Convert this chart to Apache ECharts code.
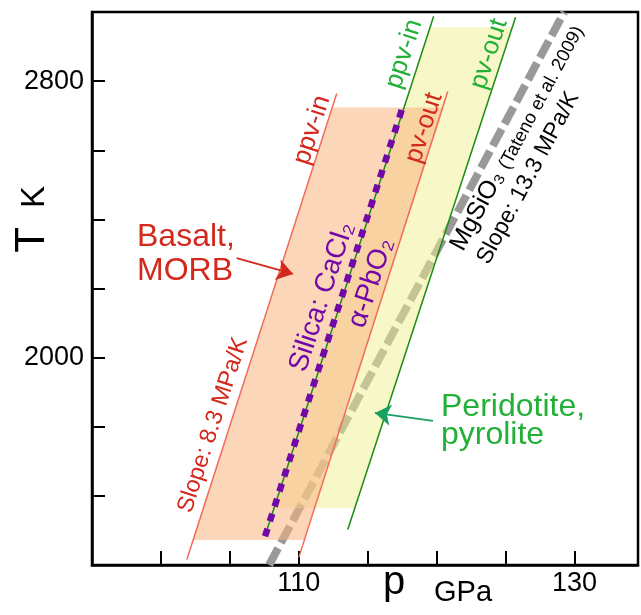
<!DOCTYPE html>
<html>
<head>
<meta charset="utf-8">
<script src="https://cdn.jsdelivr.net/npm/echarts@6/dist/echarts.min.js"></script>
<style>
  html, body { margin: 0; padding: 0; background: #fff; }
  #chart { width: 641px; height: 615px; }
</style>
</head>
<body>
<div id="chart"></div>
<script>
// axes
const pTicks = [100, 105, 110, 115, 120, 125, 130]
const pLabels = [110, 130]
const tTicks = [1600, 1800, 2000, 2200, 2400, 2600, 2800]
const tLabels = [2000, 2800]

// [p GPa, T K]
const basaltPpvIn = [[101.88, 1416], [112.75, 2764]]
const basaltPvOut = [[110.0, 1422], [120.8, 2770]]
const basaltField = [[102.33, 1472], [110.4, 1472], [120.51, 2724], [112.43, 2724]]
const peridPpvIn = [[107.54, 1483], [119.78, 2988]]
const peridPvOut = [[113.55, 1503], [125.72, 2985]]
const peridField = [[108.2, 1564], [114.05, 1564], [125.48, 2956], [119.52, 2956]]
const silicaLine = [[107.55, 1483], [117.5, 2721]]
const mgsio3Line = [[107.85, 1400], [129.25, 3000]]
const basaltArrow = [[105.49, 2288], [109.58, 2242]]
const peridArrow = [[119.73, 1817], [115.52, 1840]]

const FONT = '"Liberation Sans", Arial, sans-serif'
const RED = '#d3291c'
const RED_LINE = '#f26b5b'
const GREEN = '#22b037'
const GREEN_LINE = '#1c8c14'
const PURPLE = '#7308a8'

let chart = echarts.init(document.getElementById('chart'), null, { renderer: 'canvas' })

function lineSeries(data, color, width, z, type) {
  return {
    type: 'line',
    data: data,
    symbol: 'none',
    z: z,
    silent: true,
    lineStyle: { color: color, width: width, type: type || 'solid', cap: 'butt' },
  }
}

function fieldSeries(points, fill, z) {
  return {
    type: 'custom',
    z: z,
    silent: true,
    data: points,
    renderItem: (params, api) => {
      if (params.dataIndex !== 0) return null
      return {
        type: 'polygon',
        shape: { points: points.map((d) => api.coord(d)) },
        style: { fill: fill },
      }
    },
  }
}

function arrowSeries(coords, color) {
  return {
    type: 'lines',
    coordinateSystem: 'cartesian2d',
    z: 6,
    silent: true,
    symbol: ['none', 'arrow'],
    symbolSize: [11, 16],
    lineStyle: { color: color, width: 1.8, opacity: 1 },
    data: [{ coords: coords }],
  }
}

const deg = Math.PI / 180
function label(text, x, y, rot, color, size, align, vAlign) {
  return {
    type: 'text',
    x: x,
    y: y,
    rotation: rot * deg,
    z: 10,
    silent: true,
    style: {
      text: text,
      fill: color,
      font: size + 'px ' + FONT,
      textAlign: align || 'center',
      align: align || 'center',
      textVerticalAlign: vAlign || 'middle',
      verticalAlign: vAlign || 'middle',
    },
  }
}

let graphics = [
  label('ppv-in', 312, 130, 72, RED, 26),
  label('pv-out', 424, 128, 72, RED, 26),
  label('ppv-in', 404, 54, 72, GREEN, 26),
  label('pv-out', 489, 54, 72, GREEN, 26),
  label('Slope: 8.3 MPa/K', 213, 425, 72, RED, 23.5),
  label('Silica: CaCl₂', 322, 297, 72, PURPLE, 28),
  label('α-PbO₂', 371, 283, 72, PURPLE, 28),
  {
    type: 'text', x: 137, y: 220, z: 10, silent: true,
    style: { text: 'Basalt,\nMORB', fill: RED, font: '32px ' + FONT, lineHeight: 34,
      textAlign: 'left', align: 'left', textVerticalAlign: 'top', verticalAlign: 'top' },
  },
  {
    type: 'text', x: 441, y: 393, z: 10, silent: true,
    style: { text: 'Peridotite,\npyrolite', fill: GREEN, font: '32px ' + FONT, lineHeight: 28,
      textAlign: 'left', align: 'left', textVerticalAlign: 'top', verticalAlign: 'top' },
  },
  {
    type: 'text', x: 468, y: 255, rotation: 61.8 * deg, z: 10, silent: true,
    style: {
      text: '{a|MgSiO₃} {b|(Tateno et al. 2009)}',
      fill: '#000',
      font: '25px ' + FONT,
      textAlign: 'left', align: 'left', textVerticalAlign: 'bottom', verticalAlign: 'bottom',
      rich: {
        a: { fontSize: 25, fontFamily: FONT, verticalAlign: 'bottom' },
        b: { fontSize: 18.5, fontFamily: FONT, verticalAlign: 'bottom' },
      },
    },
  },
  label('Slope: 13.3 MPa/K', 493, 268, 61.8, '#000', 23, 'left', 'bottom'),
  label('T', 32, 240, 90, '#000', 42),
  label('K', 35, 197, 90, '#000', 33),
  label('p', 394, 583, 0, '#000', 40),
  label('GPa', 463, 593, 0, '#000', 29),
]

let option = {
  animation: false,
  backgroundColor: '#fff',
  grid: {
    left: 92,
    top: 12,
    right: 3,
    bottom: 50,
    show: true,
    borderColor: '#000',
    borderWidth: 2.5,
    containLabel: false,
    outerBoundsMode: 'none',
  },
  xAxis: {
    type: 'value',
    min: 95,
    max: 134.6,
    splitLine: { show: false },
    axisLine: { show: true, lineStyle: { color: '#000', width: 2.5 } },
    axisTick: { show: true, inside: true, length: 14, customValues: pTicks, lineStyle: { color: '#000', width: 2 } },
    axisLabel: {
      customValues: pLabels, margin: 5, color: '#000', fontSize: 27, fontFamily: FONT,
      formatter: (v) => String(v),
    },
  },
  yAxis: {
    type: 'value',
    min: 1400,
    max: 3000,
    splitLine: { show: false },
    axisLine: { show: true, lineStyle: { color: '#000', width: 2.5 } },
    axisTick: { show: true, inside: true, length: 13, customValues: tTicks, lineStyle: { color: '#000', width: 2 } },
    axisLabel: {
      customValues: tLabels, margin: 8, color: '#000', fontSize: 27, fontFamily: FONT,
      formatter: (v) => String(v),
    },
  },
  graphic: graphics,
  series: [
    lineSeries(mgsio3Line, '#999999', 8, 1, [19, 6]),
    fieldSeries(peridField, 'rgba(240,240,145,0.5)', 2),
    fieldSeries(basaltField, 'rgba(249,180,127,0.55)', 3),
    lineSeries(basaltPpvIn, RED_LINE, 1.5, 4),
    lineSeries(basaltPvOut, RED_LINE, 1.5, 4),
    lineSeries(peridPpvIn, GREEN_LINE, 1.5, 4),
    lineSeries(peridPvOut, GREEN_LINE, 1.5, 4),
    lineSeries(silicaLine, PURPLE, 6.5, 5, [8, 7.7]),
    arrowSeries(basaltArrow, RED),
    arrowSeries(peridArrow, '#18a060'),
  ],
}
chart.setOption(option)
</script>
</body>
</html>
